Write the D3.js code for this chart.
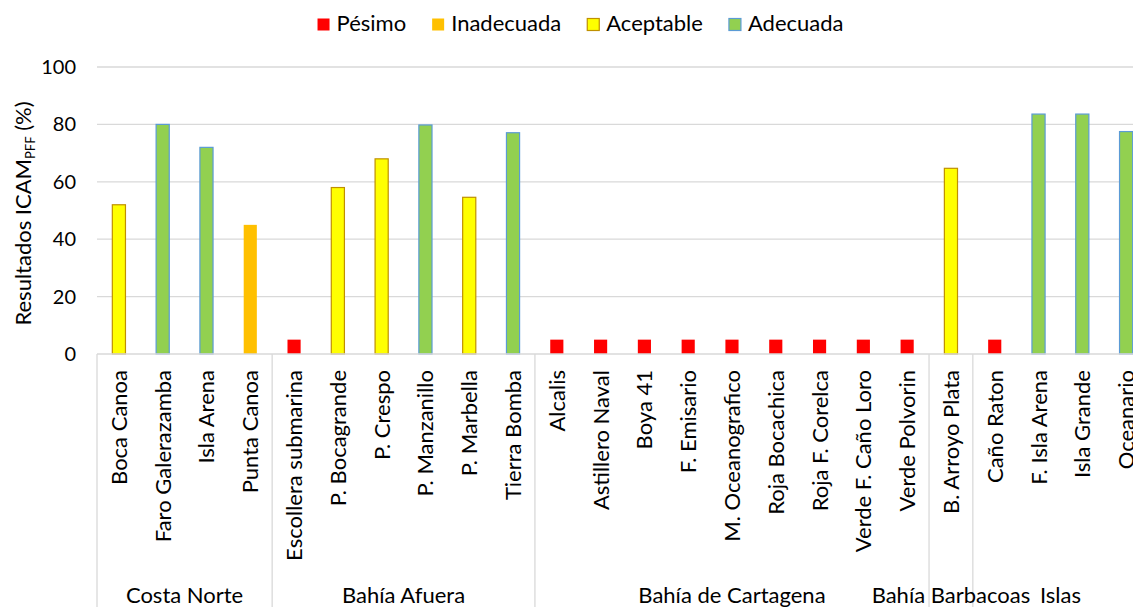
<!DOCTYPE html>
<html>
<head>
<meta charset="utf-8">
<script src="https://cdn.jsdelivr.net/npm/d3@7"></script>
<style>
  body { margin: 0; background: #fff; }
  text { font-family: Lato, "Open Sans", sans-serif; fill: #000; }
</style>
</head>
<body>
<svg id="chart" width="1133" height="607"></svg>
<script>
// Stations along the x axis, in display order
const categories = [
  "Boca Canoa", "Faro Galerazamba", "Isla Arena", "Punta Canoa",
  "Escollera submarina", "P. Bocagrande", "P. Crespo", "P. Manzanillo", "P. Marbella", "Tierra Bomba",
  "Alcalis", "Astillero Naval", "Boya 41", "F. Emisario", "M. Oceanografico", "Roja Bocachica",
  "Roja F. Corelca", "Verde F. Caño Loro", "Verde Polvorin",
  "B. Arroyo Plata",
  "Caño Raton", "F. Isla Arena", "Isla Grande", "Oceanario"
];
// Zone groups and how many stations each one holds
const groupNames = ["Costa Norte", "Bahía Afuera", "Bahía de Cartagena", "Bahía Barbacoas", "Islas"];
const groupSizes = [4, 6, 9, 1, 4];
// ICAM_PFF result per station (%)
const values = [
  52, 80, 72, 45,
  5, 58, 68, 79.8, 54.6, 77.1,
  5, 5, 5, 5, 5, 5, 5, 5, 5,
  64.7,
  5, 83.6, 83.6, 77.5
];
// Quality class per station (index into legendLabels)
const ratings = [
  2, 3, 3, 1,
  0, 2, 2, 3, 2, 3,
  0, 0, 0, 0, 0, 0, 0, 0, 0,
  2,
  0, 3, 3, 3
];
const legendLabels = ["Pésimo", "Inadecuada", "Aceptable", "Adecuada"];
const yTicks = [0, 20, 40, 60, 80, 100];

const fills   = ["#FF0000", "#FFC000", "#FFFF00", "#92D050"];
const strokes = ["none", "none", "#BF9000", "#5B9BD5"];

const FS = 22;
const svg = d3.select("#chart");
const plot = { left: 97, right: 1148, top: 67, bottom: 354 };

const x = d3.scaleBand().domain(categories).range([plot.left, plot.right]).padding(0);
const y = d3.scaleLinear().domain([0, 100]).range([plot.bottom, plot.top]);

// Horizontal gridlines
svg.append("g").selectAll("line").data(yTicks.filter(t => t > 0)).join("line")
  .attr("x1", plot.left).attr("x2", plot.right)
  .attr("y1", d => y(d)).attr("y2", d => y(d))
  .attr("stroke", "#D9D9D9").attr("stroke-width", 1.3);

// Y axis labels
const yAxis = svg.append("g")
  .attr("transform", `translate(${plot.left},0)`)
  .call(d3.axisLeft(y).tickValues(yTicks).tickSize(0).tickPadding(21));
yAxis.select(".domain").remove();
yAxis.selectAll("text").attr("font-size", 20).attr("font-family", "Lato, 'Open Sans', sans-serif").attr("fill", "#000");

// Y axis title with subscript
const yTitle = svg.append("text")
  .attr("transform", `translate(31,${(plot.top + plot.bottom) / 2 + 3}) rotate(-90)`)
  .attr("text-anchor", "middle")
  .attr("font-size", FS);
yTitle.append("tspan").text("Resultados ICAM");
yTitle.append("tspan").attr("font-size", 13).attr("dy", 4).text("PFF");
yTitle.append("tspan").attr("dy", -4).text(" (%)");

// Bars
const bw = x.bandwidth() * 0.3;
const rows = categories.map((c, i) => ({ c, v: values[i], r: ratings[i] }));
svg.append("g").selectAll("rect").data(rows).join("rect")
  .attr("x", d => x(d.c) + (x.bandwidth() - bw) / 2)
  .attr("y", d => y(d.v))
  .attr("width", bw)
  .attr("height", d => y(0) - y(d.v))
  .attr("fill", d => fills[d.r])
  .attr("stroke", d => strokes[d.r])
  .attr("stroke-width", 1.2);

// Category axis: base line and group separators
svg.append("line")
  .attr("x1", plot.left).attr("x2", plot.right)
  .attr("y1", plot.bottom).attr("y2", plot.bottom)
  .attr("stroke", "#D9D9D9").attr("stroke-width", 1.3);

const groupStarts = [];
let acc = 0;
groupSizes.forEach(n => { groupStarts.push(acc); acc += n; });
const sepIdx = [...groupStarts, categories.length];
svg.append("g").selectAll("line").data(sepIdx).join("line")
  .attr("x1", i => i < categories.length ? x(categories[i]) : plot.right)
  .attr("x2", i => i < categories.length ? x(categories[i]) : plot.right)
  .attr("y1", plot.bottom).attr("y2", 607)
  .attr("stroke", "#D9D9D9").attr("stroke-width", 1.3);

// Station labels (rotated)
svg.append("g").selectAll("text").data(categories).join("text")
  .attr("transform", d => `translate(${x(d) + x.bandwidth() / 2 + 8},370) rotate(-90)`)
  .attr("text-anchor", "end")
  .attr("font-size", FS)
  .text(d => d);

// Group labels
svg.append("g").selectAll("text").data(groupNames).join("text")
  .attr("x", (g, i) => {
    const a = x(categories[groupStarts[i]]);
    const b = x(categories[groupStarts[i] + groupSizes[i] - 1]) + x.bandwidth();
    return (a + b) / 2;
  })
  .attr("y", 603)
  .attr("text-anchor", "middle")
  .attr("font-size", FS)
  .text(d => d);

// Legend
const legend = svg.append("g");
const items = legend.selectAll("g").data(legendLabels).join("g");
items.append("rect")
  .attr("width", 12).attr("height", 12).attr("y", 18.5)
  .attr("fill", (d, i) => fills[i])
  .attr("stroke", (d, i) => strokes[i]).attr("stroke-width", 1.2);
items.append("text")
  .attr("x", 19).attr("y", 31)
  .attr("font-size", FS)
  .text(d => d);
let lx = 0;
items.each(function () {
  d3.select(this).attr("transform", `translate(${lx},0)`);
  lx += this.getBBox().width + 26;
});
const legendWidth = lx - 26;
legend.attr("transform", `translate(${580.5 - legendWidth / 2},0)`);
</script>
</body>
</html>
